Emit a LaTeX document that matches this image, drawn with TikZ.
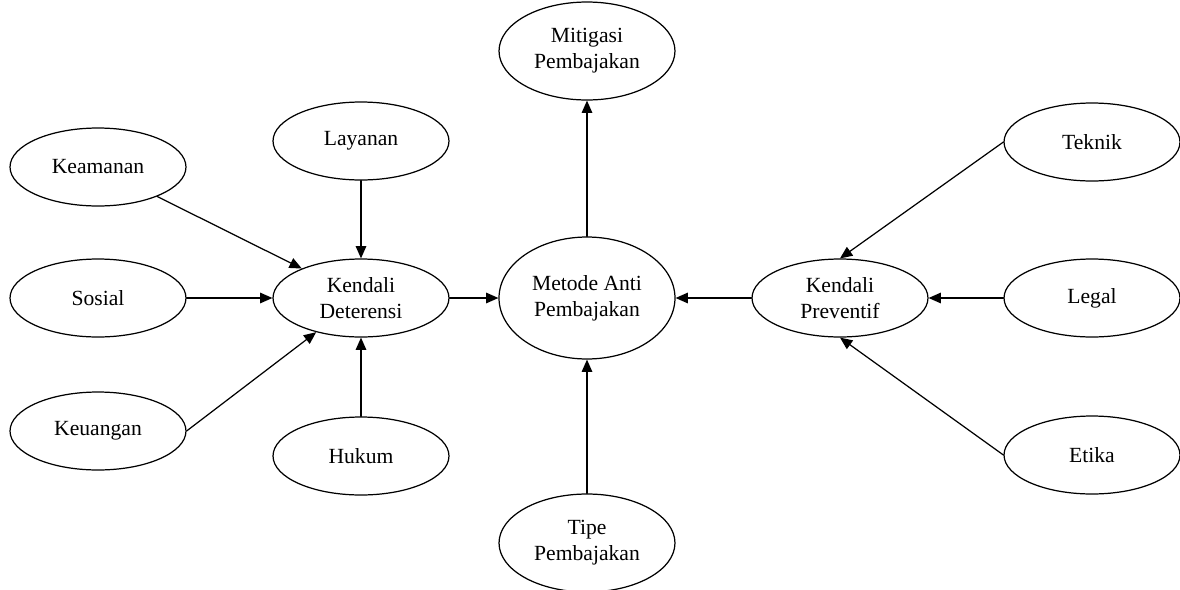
\documentclass[tikz,border=0pt]{standalone}
\usepackage{fontspec}
\setmainfont{Liberation Serif}
\usetikzlibrary{arrows.meta,shapes.geometric}

\begin{document}
\begin{tikzpicture}[line cap=round,line join=round,>={Triangle[length=7pt,width=6pt]},x=0.02cm,y=-0.02cm,
	elips/.style={draw,ellipse,line width=0.7pt,inner sep=0pt,minimum width=3.52cm,minimum height=1.56cm,align=center,font=\fontsize{12.3}{14.8}\selectfont},
	panah/.style={->,line width=0.7pt}]
			\useasboundingbox (0,0) rectangle (1180,589);
			% Kolom 1
			\node[elips] (keamanan) at (98,167) {Keamanan};
			\node[elips] (sosial) at (98,298) {Sosial};
			\node[elips] (keuangan) at (98,431) {Keuangan};
			% Kolom 2
			\node[elips] (layanan) at (361,141) {Layanan};
			\node[elips] (deterensi) at (361,298) {Kendali\\Deterensi};
			\node[elips] (hukum) at (361,456) {Hukum};
			% Tengah
			\node[elips,minimum height=2.44cm] (metode) at (587,298) {Metode Anti\\Pembajakan};
			\node[elips,minimum height=1.96cm] (mitigasi) at (587,51) {Mitigasi\\Pembajakan};
			\node[elips,minimum height=1.96cm] (tipe) at (587,543) {Tipe\\Pembajakan};
			% Kanan
			\node[elips] (preventif) at (840,298) {Kendali\\Preventif};
			\node[elips] (teknik) at (1092,142) {Teknik};
			\node[elips] (legal) at (1092,298) {Legal};
			\node[elips] (etika) at (1092,455) {Etika};
			%panah ke Kendali Deterensi
			\draw[panah] (keamanan)--(deterensi);
			\draw[panah] (sosial)--(deterensi);
			\draw[panah] (keuangan.east)--(deterensi);
			\draw[panah] (layanan)--(deterensi);
			\draw[panah] (hukum)--(deterensi);
			%panah ke Kendali Preventif
			\draw[panah] (teknik.west)--(preventif.north);
			\draw[panah] (legal)--(preventif);
			\draw[panah] (etika.west)--(preventif.south);
			%panah tengah
			\draw[panah] (deterensi)--(metode);
			\draw[panah] (preventif)--(metode);
			\draw[panah] (tipe)--(metode);
			\draw[panah] (metode)--(mitigasi);
	\end{tikzpicture}
\end{document}
